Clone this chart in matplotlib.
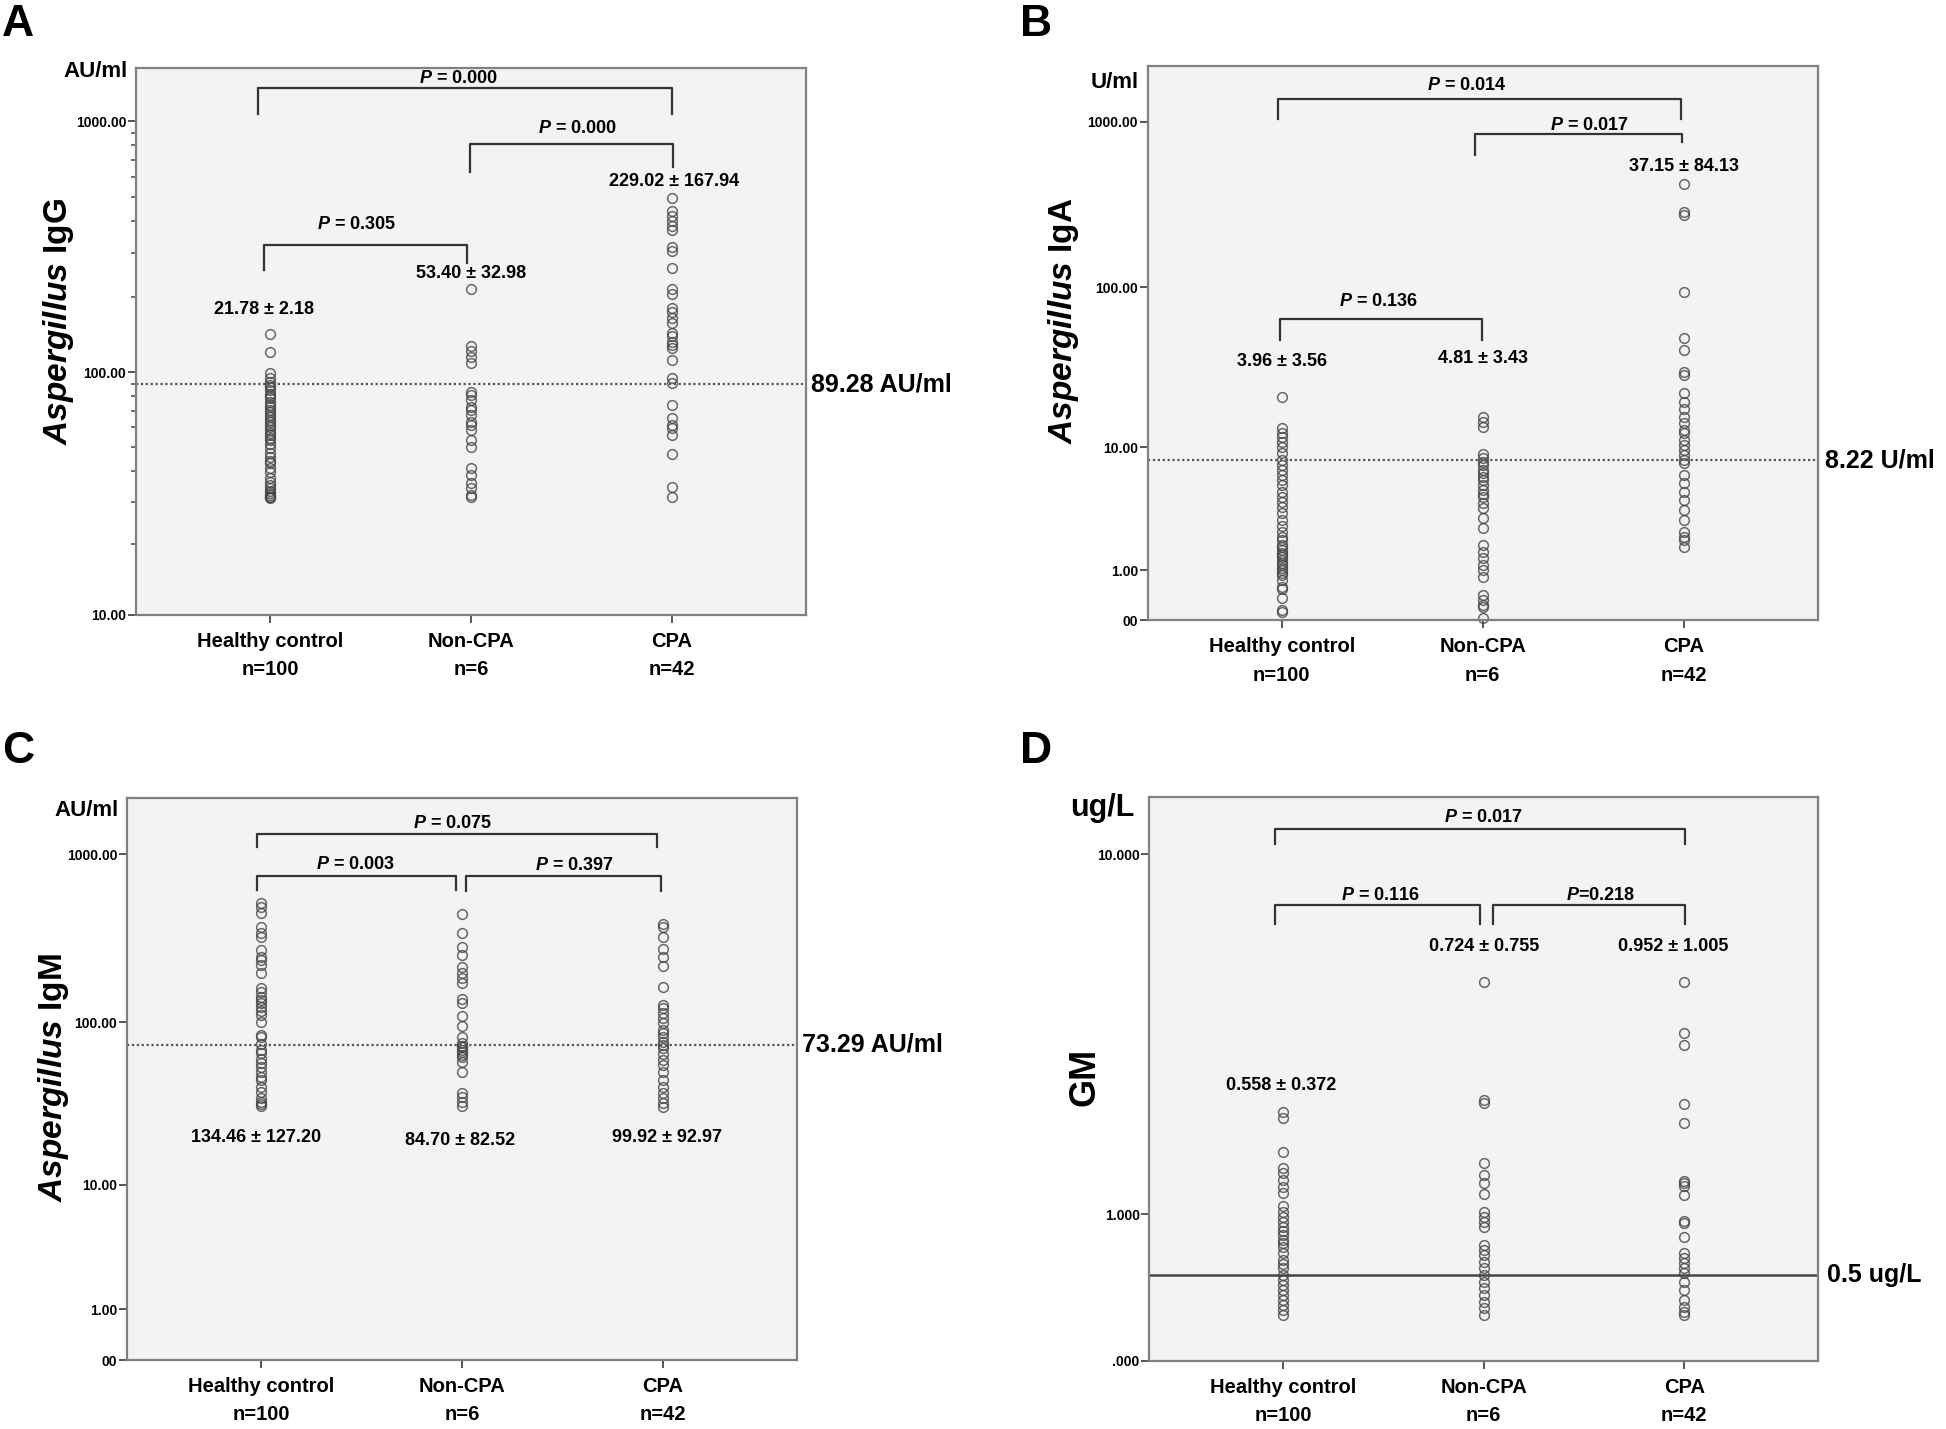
import numpy as np
import matplotlib
matplotlib.use("Agg")
import matplotlib.pyplot as plt

plt.rcParams['font.family'] = ['Liberation Sans', 'DejaVu Sans']
plt.rcParams['font.weight'] = 'bold'
plt.rcParams['mathtext.fontset'] = 'custom'
plt.rcParams['mathtext.it'] = 'Liberation Sans:italic:bold'
plt.rcParams['mathtext.rm'] = 'Liberation Sans:bold'

# groups
groups = ["Healthy control\nn=100", "Non-CPA\nn=6", "CPA\nn=42"]

# A - Aspergillus IgG (AU/ml)
igg_hc = [142, 121, 99, 95, 91.5, 89, 87.5, 85, 82, 80, 78.6, 76, 74, 72.6, 70.5, 69,
          67.3, 66, 64.3, 63, 61.3, 60, 58.5, 57, 55.9, 54.5, 53.4, 51.5, 49.4, 47.5,
          45.7, 44, 42.9, 41, 39.6, 37.5, 36, 35.0, 34.0, 33.2, 32.4, 31.8, 31.2, 31.2, 31.0]
igg_non = [214, 127, 122, 115, 109, 83, 81, 77.3, 72.6, 70.5, 67.3, 63.3, 61.3, 58.5,
           53.4, 50.2, 41, 38.5, 35.6, 34.0, 32, 31.2]
igg_cpa = [496, 439, 419, 401, 383, 369, 316, 304, 260, 214, 205, 181, 174, 164, 158,
           144, 139, 132, 128, 124.6, 112, 94.5, 90.2, 73.8, 65.3, 61.3, 59.5, 55.9,
           46.8, 34.5, 31.2]

# B - Aspergillus IgA (U/ml)
iga_hc = [21.2, 13.3, 12.5, 11.7, 10.9, 10.1, 9.1, 8.23, 7.6, 7.03, 6.5, 6.0, 5.5, 4.95,
          4.5, 4.18, 3.83, 3.4, 3.02, 2.7, 2.42, 2.19, 2.05, 1.84, 1.75, 1.65, 1.55, 1.48,
          1.4, 1.31, 1.23, 1.16, 1.08, 1.01, 0.94, 0.88, 0.75, 0.60, 0.55, 0.36, 0.16, 0.13]
iga_non = [15.8, 14.7, 13.6, 9.03, 8.45, 8.0, 7.6, 7.03, 6.67, 6.3, 6.0, 5.53, 5.09, 4.8,
           4.55, 4.06, 3.73, 3.12, 2.58, 1.84, 1.59, 1.37, 1.16, 1.01, 0.83, 0.42, 0.33,
           0.24, 0.2, 0.03]
iga_cpa = [419, 286, 273, 94, 49.2, 41.3, 30.3, 28.9, 22.4, 19.7, 17.6, 15.8, 14.3, 13.0,
           12.4, 11.2, 10.4, 9.6, 8.9, 8.23, 7.8, 6.5, 5.68, 4.95, 4.3, 3.62, 3.02, 2.42,
           2.19, 2.05, 1.78]

# C - Aspergillus IgM (AU/ml)
igm_hc = [512, 485, 447, 369, 343, 322, 270, 246, 236, 220, 198, 160, 152, 142, 136, 130,
          124, 117, 110.6, 100.8, 83.9, 82, 74, 68.2, 65, 60, 56.6, 54, 50.4, 47, 44.9,
          40.9, 38.1, 34.7, 33.1, 32, 31.2]
igm_non = [443, 339, 280, 252, 213, 198, 183, 171, 137, 131, 109, 95, 82, 75.4, 72, 70.7,
           68, 66.6, 64, 62, 57.4, 50.4, 37.6, 35.2, 33.1, 31.2]
igm_cpa = [386, 369, 324, 273, 244, 218, 162, 127, 121, 113, 106, 98.6, 89.9, 85.9, 82,
           76.4, 73, 69.8, 64.5, 59.3, 55.3, 50.4, 44.9, 40.5, 37.3, 34.7, 32.6, 30.9]

# D - GM (ug/L)
gm_hc = [2.253, 2.151, 1.684, 1.488, 1.438, 1.354, 1.281, 1.211, 1.085, 1.027, 0.980,
         0.933, 0.888, 0.85, 0.815, 0.773, 0.745, 0.718, 0.664, 0.613, 0.58, 0.550, 0.502,
         0.467, 0.433, 0.399, 0.366, 0.335, 0.303, 0.273, 0.243]
gm_non = [5.005, 2.437, 2.394, 1.547, 1.411, 1.324, 1.203, 1.027, 0.980, 0.933, 0.888,
          0.732, 0.690, 0.651, 0.600, 0.550, 0.502, 0.455, 0.410, 0.366, 0.324, 0.283, 0.243]
gm_cpa = [5.005, 3.713, 3.458, 2.367, 2.078, 1.347, 1.317, 1.288, 1.193, 0.939, 0.924,
          0.795, 0.664, 0.626, 0.588, 0.550, 0.514, 0.455, 0.399, 0.335, 0.293, 0.263, 0.243]

cutoffs = [89.28, 8.22, 73.29, 0.5]
cutoff_labels = ["89.28 AU/ml", "8.22 U/ml", "73.29 AU/ml", "0.5 ug/L"]
means = [["21.78 ± 2.18", "53.40 ± 32.98", "229.02 ± 167.94"],
         ["3.96 ± 3.56", "4.81 ± 3.43", "37.15 ± 84.13"],
         ["134.46 ± 127.20", "84.70 ± 82.52", "99.92 ± 92.97"],
         ["0.558 ± 0.372", "0.724 ± 0.755", "0.952 ± 1.005"]]


def fwd(v):
    return np.log10(np.maximum(v, 0) + 1)


def inv(v):
    return 10 ** v - 1


fig = plt.figure(figsize=(19.46, 14.29), dpi=100)
W, H = 1946, 1429


def make_ax(l, t, r, b):
    return fig.add_axes([l / W, 1 - b / H, (r - l) / W, (b - t) / H])


def style(ax, ylim, yticks, ylabels):
    ax.set_facecolor('#f3f3f3')
    for s in ax.spines.values():
        s.set_color('#808080')
        s.set_linewidth(1.6)
    ax.set_yscale('function', functions=(fwd, inv))
    ax.set_ylim(*ylim)
    ax.set_xlim(-0.667, 2.667)
    ax.set_yticks(yticks)
    ax.set_yticklabels(ylabels)
    ax.yaxis.set_minor_locator(matplotlib.ticker.NullLocator())
    ax.set_xticks([0, 1, 2])
    ax.set_xticklabels(groups, fontsize=14.5, fontweight='bold', linespacing=1.65)
    ax.tick_params(axis='y', labelsize=10, length=6, width=1.4, color='#555555', pad=1)
    ax.tick_params(axis='x', length=6, width=1.4, color='#555555', pad=6)


def dots(ax, cols):
    for i, vals in enumerate(cols):
        ax.plot(np.full(len(vals), i), vals, 'o', mfc='none', mec='#454545',
                mew=1.1, ms=7, alpha=0.8, clip_on=False)


def bracket(ax, x1, x2, ybar, yl1, yl2, txt, xt, yt):
    tr = ax.get_xaxis_transform()
    ax.plot([x1, x1, x2, x2], [yl1, ybar, ybar, yl2], color='#333333', lw=1.6,
            transform=tr, clip_on=False)
    ax.text(xt, yt, txt, transform=tr, ha='center', va='center', fontsize=13,
            fontweight='bold')


def mean_lbl(ax, xs, ys, labels):
    tr = ax.get_xaxis_transform()
    for x, y, s in zip(xs, ys, labels):
        ax.text(x, y, s, transform=tr, ha='center', va='center', fontsize=13,
                fontweight='bold')


def cutoff(ax, val, lbl, dotted=True, xoff=1.008):
    if dotted:
        ax.axhline(val, color='#555555', lw=1.6, ls=(0, (1, 1.2)))
    else:
        ax.axhline(val, color='#444444', lw=1.8)
    ax.text(xoff, val, lbl, transform=ax.get_yaxis_transform(), ha='left', va='center',
            fontsize=18, fontweight='bold', clip_on=False)


# ---- A
axA = make_ax(136, 68, 806, 615)
style(axA, (10, 1624), [10, 100, 1000], ['10.00', '100.00', '1000.00'])
axA.yaxis.set_minor_locator(matplotlib.ticker.FixedLocator(
    [20, 30, 40, 50, 60, 70, 80, 90, 200, 300, 400, 500, 600, 700, 800, 900]))
axA.tick_params(axis='y', which='minor', length=3.5, width=1.2, color='#555555')
dots(axA, [igg_hc, igg_non, igg_cpa])
cutoff(axA, cutoffs[0], cutoff_labels[0])
bracket(axA, -0.06, 2.0, 0.963, 0.916, 0.916, r'$P$ = 0.000', 0.94, 0.980)
bracket(axA, 0.995, 2.005, 0.861, 0.810, 0.819, r'$P$ = 0.000', 1.53, 0.890)
bracket(axA, -0.03, 0.98, 0.676, 0.631, 0.644, r'$P$ = 0.305', 0.43, 0.713)
mean_lbl(axA, [-0.03, 1.0, 2.01], [0.559, 0.625, 0.792], means[0])
axA.text(-0.012, 0.994, 'AU/ml', transform=axA.transAxes, ha='right', va='center',
         fontsize=16, fontweight='bold')
axA.text(-0.115, 0.537, r'$Aspergillus$ IgG', transform=axA.transAxes, rotation=90,
         ha='center', va='center', fontsize=24, fontweight='bold')

# ---- B
axB = make_ax(1147.6, 66, 1818, 620.5)
style(axB, (0, 2158), [0, 1, 10, 100, 1000], ['00', '1.00', '10.00', '100.00', '1000.00'])
dots(axB, [iga_hc, iga_non, iga_cpa])
cutoff(axB, cutoffs[1], cutoff_labels[1], xoff=1.0105)
bracket(axB, -0.02, 1.985, 0.9405, 0.904, 0.904, r'$P$ = 0.014', 0.92, 0.965)
bracket(axB, 0.96, 1.99, 0.877, 0.839, 0.863, r'$P$ = 0.017', 1.53, 0.893)
bracket(axB, -0.01, 0.995, 0.5437, 0.5058, 0.5058, r'$P$ = 0.136', 0.48, 0.576)
mean_lbl(axB, [0, 1.0, 2.0], [0.467, 0.4716, 0.8187], means[1])
axB.text(-0.013, 0.971, 'U/ml', transform=axB.transAxes, ha='right', va='center',
         fontsize=16, fontweight='bold')
axB.text(-0.126, 0.540, r'$Aspergillus$ IgA', transform=axB.transAxes, rotation=90,
         ha='center', va='center', fontsize=24, fontweight='bold')

# ---- C
axC = make_ax(127, 797.8, 797, 1360)
style(axC, (0, 2170), [0, 1, 10, 100, 1000], ['00', '1.00', '10.00', '100.00', '1000.00'])
dots(axC, [igm_hc, igm_non, igm_cpa])
cutoff(axC, cutoffs[2], cutoff_labels[2])
bracket(axC, -0.02, 1.97, 0.9349, 0.9116, 0.9116, r'$P$ = 0.075', 0.955, 0.955)
bracket(axC, -0.02, 0.97, 0.861, 0.8367, 0.8367, r'$P$ = 0.003', 0.47, 0.881)
bracket(axC, 1.02, 1.99, 0.861, 0.834, 0.834, r'$P$ = 0.397', 1.56, 0.880)
mean_lbl(axC, [-0.025, 0.99, 2.02], [0.395, 0.3904, 0.395], means[2])
axC.text(-0.012, 0.9776, 'AU/ml', transform=axC.transAxes, ha='right', va='center',
         fontsize=16, fontweight='bold')
axC.text(-0.110, 0.502, r'$Aspergillus$ IgM', transform=axC.transAxes, rotation=90,
         ha='center', va='center', fontsize=24, fontweight='bold')

# ---- D
axD = make_ax(1149.4, 797, 1818, 1361)
style(axD, (0, 13.41), [0, 1, 10], ['.000', '1.000', '10.000'])
dots(axD, [gm_hc, gm_non, gm_cpa])
cutoff(axD, cutoffs[3], cutoff_labels[3], dotted=False, xoff=1.0135)
bracket(axD, -0.04, 2.006, 0.9433, 0.9158, 0.9158, r'$P$ = 0.017', 1.0, 0.9628)
bracket(axD, -0.04, 0.98, 0.8078, 0.7757, 0.7757, r'$P$ = 0.116', 0.485, 0.8262)
bracket(axD, 1.045, 2.006, 0.8078, 0.7757, 0.7757, r'$P$=0.218', 1.585, 0.8262)
mean_lbl(axD, [-0.01, 1.0, 1.945], [0.4888, 0.7358, 0.7358], means[3])
axD.text(-0.023, 0.9805, 'ug/L', transform=axD.transAxes, ha='right', va='center',
         fontsize=22, fontweight='bold')
axD.text(-0.096, 0.504, 'GM', transform=axD.transAxes, rotation=90,
         ha='center', va='center', fontsize=26, fontweight='bold')

# panel letters
for s, x, y in [('A', 2, 4), ('B', 1020, 4), ('C', 2, 731), ('D', 1020, 731)]:
    fig.text(x / W, 1 - y / H, s, ha='left', va='top', fontsize=32, fontweight='bold')

fig.savefig('out.png', dpi=100, facecolor='white')
